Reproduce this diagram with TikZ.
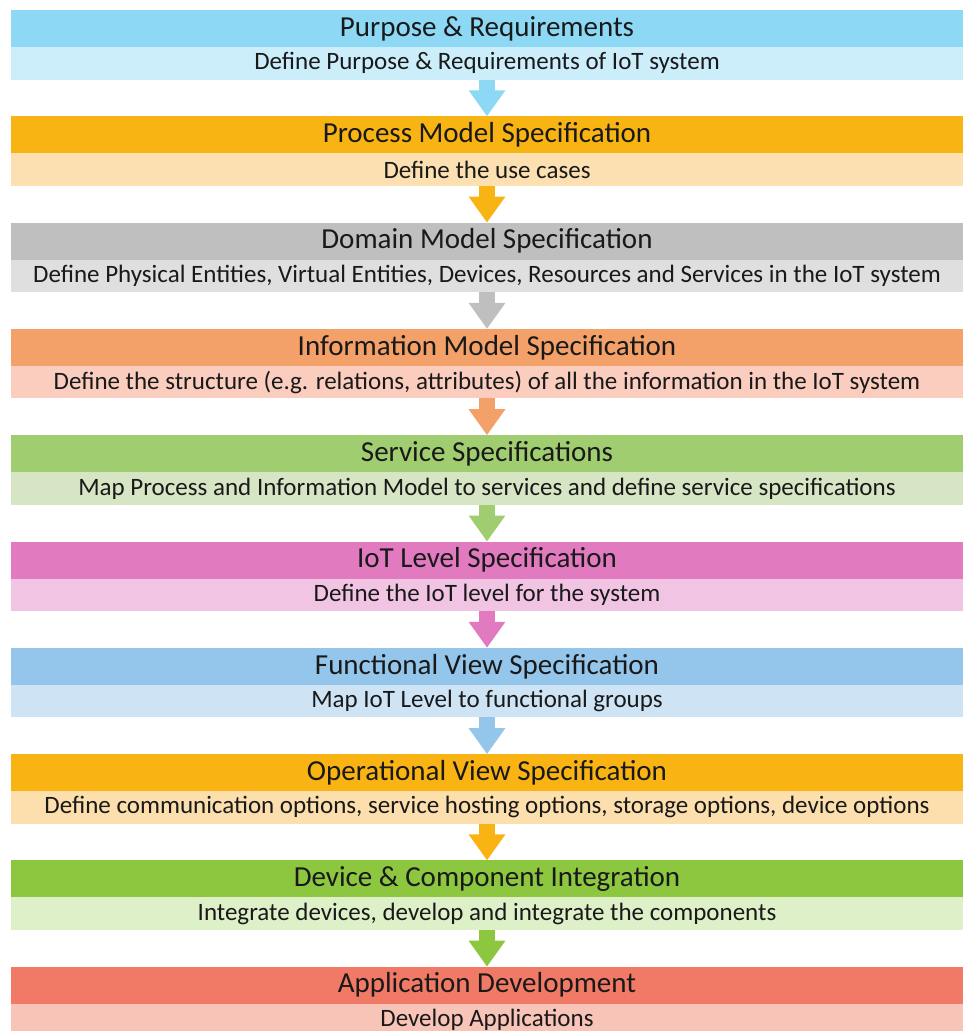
\documentclass[tikz,border=0pt]{standalone}
\usepackage{fontspec}
\setmainfont{Carlito}
\usetikzlibrary{positioning,arrows.meta}

\definecolor{purposeH}{RGB}{141,216,245}
\definecolor{purposeL}{RGB}{204,238,251}
\definecolor{processH}{RGB}{247,180,18}
\definecolor{processL}{RGB}{252,224,178}
\definecolor{domainH}{RGB}{191,191,191}
\definecolor{domainL}{RGB}{223,223,223}
\definecolor{infoH}{RGB}{243,160,105}
\definecolor{infoL}{RGB}{250,205,190}
\definecolor{serviceH}{RGB}{160,205,112}
\definecolor{serviceL}{RGB}{214,230,196}
\definecolor{levelH}{RGB}{226,122,192}
\definecolor{levelL}{RGB}{241,196,228}
\definecolor{funcH}{RGB}{148,198,236}
\definecolor{funcL}{RGB}{206,228,245}
\definecolor{operH}{RGB}{249,180,20}
\definecolor{operL}{RGB}{252,223,172}
\definecolor{deviceH}{RGB}{141,198,63}
\definecolor{deviceL}{RGB}{221,240,200}
\definecolor{appH}{RGB}{240,122,102}
\definecolor{appL}{RGB}{249,196,184}

\begin{document}
\begin{tikzpicture}[x=1pt,y=1pt,node distance=36.8pt,
  headbar/.style={minimum width=952pt,minimum height=37pt,inner sep=0pt,outer sep=0pt,
    text=black!90,font=\fontsize{29}{32}\selectfont},
  subbar/.style={minimum width=952pt,minimum height=32.5pt,inner sep=0pt,outer sep=0pt,
    text=black!90,font=\fontsize{25}{28}\selectfont},
  flowarrow/.style={line width=16pt,-{Triangle[width=35pt,length=26pt]}}]
  \useasboundingbox (0,0) rectangle (963,-1031);
  \clip (0,0) rectangle (963,-1031);
  % stages
  \node[headbar,fill=purposeH] (purpose) at (487,-28.5) {Purpose \& Requirements};
  \node[subbar,fill=purposeL] (purposeD) [below=0pt of purpose] {Define Purpose \& Requirements of IoT system};
  \node[headbar,fill=processH] (process) [below=of purposeD] {Process Model Specification};
  \node[subbar,fill=processL] (processD) [below=0pt of process] {Define the use cases};
  \node[headbar,fill=domainH] (domain) [below=of processD] {Domain Model Specification};
  \node[subbar,fill=domainL] (domainD) [below=0pt of domain] {Define Physical Entities, Virtual Entities, Devices, Resources and Services in the IoT system};
  \node[headbar,fill=infoH] (info) [below=of domainD] {Information Model Specification};
  \node[subbar,fill=infoL] (infoD) [below=0pt of info] {Define the structure (e.g. relations, attributes) of all the information in the IoT system};
  \node[headbar,fill=serviceH] (service) [below=of infoD] {Service Specifications};
  \node[subbar,fill=serviceL] (serviceD) [below=0pt of service] {Map Process and Information Model to services and define service specifications};
  \node[headbar,fill=levelH] (level) [below=of serviceD] {IoT Level Specification};
  \node[subbar,fill=levelL] (levelD) [below=0pt of level] {Define the IoT level for the system};
  \node[headbar,fill=funcH] (func) [below=of levelD] {Functional View Specification};
  \node[subbar,fill=funcL] (funcD) [below=0pt of func] {Map IoT Level to functional groups};
  \node[headbar,fill=operH] (oper) [below=of funcD] {Operational View Specification};
  \node[subbar,fill=operL] (operD) [below=0pt of oper] {Define communication options, service hosting options, storage options, device options};
  \node[headbar,fill=deviceH] (device) [below=of operD] {Device \& Component Integration};
  \node[subbar,fill=deviceL] (deviceD) [below=0pt of device] {Integrate devices, develop and integrate the components};
  \node[headbar,fill=appH] (app) [below=of deviceD] {Application Development};
  \node[subbar,fill=appL] (appD) [below=0pt of app] {Develop Applications};
  % arrows between stages
  \draw[flowarrow,purposeH] (purposeD) -- (process);
  \draw[flowarrow,processH] (processD) -- (domain);
  \draw[flowarrow,domainH] (domainD) -- (info);
  \draw[flowarrow,infoH] (infoD) -- (service);
  \draw[flowarrow,serviceH] (serviceD) -- (level);
  \draw[flowarrow,levelH] (levelD) -- (func);
  \draw[flowarrow,funcH] (funcD) -- (oper);
  \draw[flowarrow,operH] (operD) -- (device);
  \draw[flowarrow,deviceH] (deviceD) -- (app);
\end{tikzpicture}
\end{document}
